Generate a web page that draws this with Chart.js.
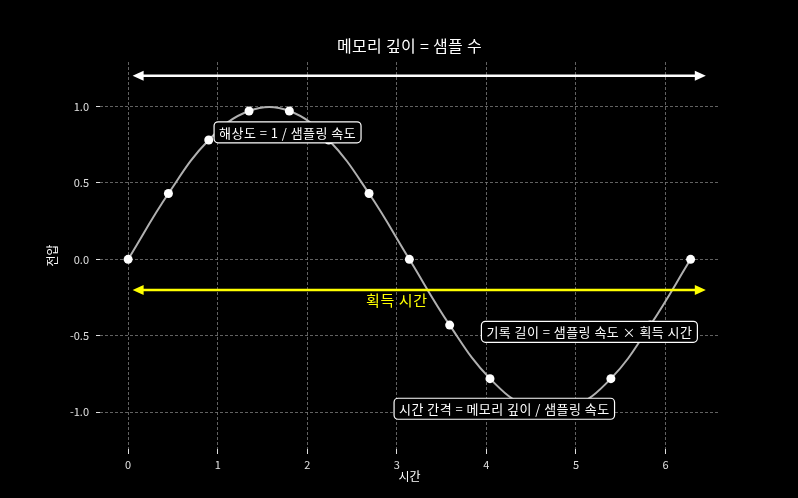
<!DOCTYPE html>
<html>
<head>
<meta charset="utf-8">
<script src="https://cdn.jsdelivr.net/npm/chart.js@4.4.1/dist/chart.umd.min.js"></script>
<style>
  html, body { margin: 0; padding: 0; background: #000; }
</style>
</head>
<body>
<canvas id="grafica" width="798" height="498"></canvas>
<script>
// muestras de la señal
var muestrasX = [0, 0.45, 0.90, 1.35, 1.80, 2.24, 2.69, 3.14, 3.59, 4.04, 4.49, 4.94, 5.39, 5.83, 6.28];
var muestrasY = [0, 0.43, 0.78, 0.97, 0.97, 0.78, 0.43, 0, -0.43, -0.78, -0.97, -0.97, -0.78, -0.43, 0];

var ticksX = [0, 1, 2, 3, 4, 5, 6];
var ticksY = [-1.0, -0.5, 0.0, 0.5, 1.0];

// flechas: inicio, fin, altura
var flechaInicio = [0.05, 0.05];
var flechaFin = [6.45, 6.45];
var flechaY = [1.2, -0.2];
var flechaColor = ['#ffffff', '#ffff00'];

// textos sueltos
var textoFlecha = '획득 시간';
var textoFlechaX = 3.0;
var textoFlechaY = -0.265;

// etiquetas con caja
var etiquetas = ['해상도 = 1 / 샘플링 속도', '기록 길이 = 샘플링 속도 × 획득 시간', '시간 간격 = 메모리 깊이 / 샘플링 속도'];
var etiquetaX = [1.78, 5.15, 4.20];
var etiquetaY = [0.83, -0.474, -0.977];

var titulo = '메모리 깊이 = 샘플 수';
var tituloX = '시간';
var tituloY = '전압';

var fuente = '"Noto Sans CJK KR", "Noto Sans", sans-serif';

var curva = {
    type: 'line',
    data: [],
    borderColor: '#b0b0b0',
    borderWidth: 2,
    pointRadius: 0,
    tension: 0.4,
    order: 2
};

var puntos = {
    type: 'scatter',
    data: [],
    backgroundColor: '#ffffff',
    borderColor: '#ffffff',
    borderWidth: 0,
    pointRadius: 4.5,
    order: 1
};

for (var i = 0; i < muestrasX.length; i++) {
    curva.data.push({x: muestrasX[i], y: muestrasY[i]});
    puntos.data.push({x: muestrasX[i], y: muestrasY[i]});
}

function flecha(ctx, xa, xb, y, color) {
    var largo = 11, ancho = 5;
    ctx.save();
    ctx.strokeStyle = color;
    ctx.fillStyle = color;
    ctx.lineWidth = 2.5;
    ctx.beginPath();
    ctx.moveTo(xa + largo - 2, y);
    ctx.lineTo(xb - largo + 2, y);
    ctx.stroke();
    ctx.beginPath();
    ctx.moveTo(xa, y);
    ctx.lineTo(xa + largo, y - ancho);
    ctx.lineTo(xa + largo, y + ancho);
    ctx.closePath();
    ctx.fill();
    ctx.beginPath();
    ctx.moveTo(xb, y);
    ctx.lineTo(xb - largo, y - ancho);
    ctx.lineTo(xb - largo, y + ancho);
    ctx.closePath();
    ctx.fill();
    ctx.restore();
}

function caja(ctx, texto, cx, cy) {
    ctx.save();
    ctx.font = '13px ' + fuente;
    ctx.letterSpacing = '0.45px';
    var w = ctx.measureText(texto).width + 10;
    var h = 21;
    var x0 = cx - w / 2, y0 = cy - h / 2;
    ctx.beginPath();
    ctx.roundRect(x0, y0, w, h, 4);
    ctx.fillStyle = '#000000';
    ctx.fill();
    ctx.strokeStyle = '#ffffff';
    ctx.lineWidth = 1.2;
    ctx.stroke();
    ctx.fillStyle = '#ffffff';
    ctx.textAlign = 'center';
    ctx.textBaseline = 'middle';
    ctx.fillText(texto, cx, cy + 0.5);
    ctx.restore();
}

var anotaciones = {
    id: 'anotaciones',
    afterDatasetsDraw: function(chart) {
        var ctx = chart.ctx;
        var sx = chart.scales.x, sy = chart.scales.y;
        var area = chart.chartArea;

        for (var i = 0; i < flechaY.length; i++) {
            flecha(ctx, sx.getPixelForValue(flechaInicio[i]), sx.getPixelForValue(flechaFin[i]),
                   sy.getPixelForValue(flechaY[i]), flechaColor[i]);
        }

        ctx.save();
        ctx.font = '15px ' + fuente;
        ctx.letterSpacing = '0.6px';
        ctx.fillStyle = '#ffff00';
        ctx.textAlign = 'center';
        ctx.textBaseline = 'middle';
        ctx.fillText(textoFlecha, sx.getPixelForValue(textoFlechaX), sy.getPixelForValue(textoFlechaY));
        ctx.restore();

        for (var j = 0; j < etiquetas.length; j++) {
            caja(ctx, etiquetas[j], sx.getPixelForValue(etiquetaX[j]), sy.getPixelForValue(etiquetaY[j]));
        }

        // titulos
        ctx.save();
        ctx.fillStyle = '#ffffff';
        ctx.textAlign = 'center';
        ctx.textBaseline = 'middle';
        ctx.font = '16px ' + fuente;
        ctx.letterSpacing = '0.3px';
        ctx.fillText(titulo, (area.left + area.right) / 2, 46);
        ctx.letterSpacing = '0px';
        ctx.font = '12px ' + fuente;
        ctx.fillText(tituloX, (area.left + area.right) / 2, 476);
        ctx.translate(52, (area.top + area.bottom) / 2);
        ctx.rotate(-Math.PI / 2);
        ctx.fillText(tituloY, 0, 0);
        ctx.restore();
    }
};

var config = {
    type: 'line',
    data: {
        datasets: [puntos, curva]
    },
    options: {
        responsive: false,
        animation: false,
        devicePixelRatio: 1,
        layout: {
            padding: {top: 62, right: 79, left: 0, bottom: 0}
        },
        plugins: {
            legend: {display: false},
            tooltip: {enabled: false},
            title: {display: false}
        },
        scales: {
            x: {
                type: 'linear',
                min: -0.314,
                max: 6.597,
                afterBuildTicks: function(scale) {
                    scale.ticks = ticksX.map(function(v) { return {value: v}; });
                },
                afterFit: function(scale) { scale.height = 49; },
                grid: {
                    color: '#7a7a7a',
                    lineWidth: 0.8,
                    tickColor: '#e0e0e0',
                    tickLength: 5,
                    tickWidth: 1
                },
                border: {display: false, dash: [3, 2]},
                ticks: {
                    color: '#e0e0e0',
                    padding: 4,
                    maxRotation: 0,
                    font: {family: fuente, size: 11},
                    callback: function(v) { return String(v); }
                }
            },
            y: {
                type: 'linear',
                min: -1.24,
                max: 1.29,
                afterBuildTicks: function(scale) {
                    scale.ticks = ticksY.map(function(v) { return {value: v}; });
                },
                afterFit: function(scale) { scale.width = 100; },
                grid: {
                    color: '#7a7a7a',
                    lineWidth: 0.8,
                    tickColor: '#e0e0e0',
                    tickLength: 4,
                    tickWidth: 1
                },
                border: {display: false, dash: [3, 2]},
                ticks: {
                    color: '#e0e0e0',
                    padding: 7,
                    font: {family: fuente, size: 11},
                    callback: function(v) { return v.toFixed(1); }
                }
            }
        }
    },
    plugins: [anotaciones]
};

var grafica = new Chart(document.getElementById('grafica'), config);
</script>
</body>
</html>
